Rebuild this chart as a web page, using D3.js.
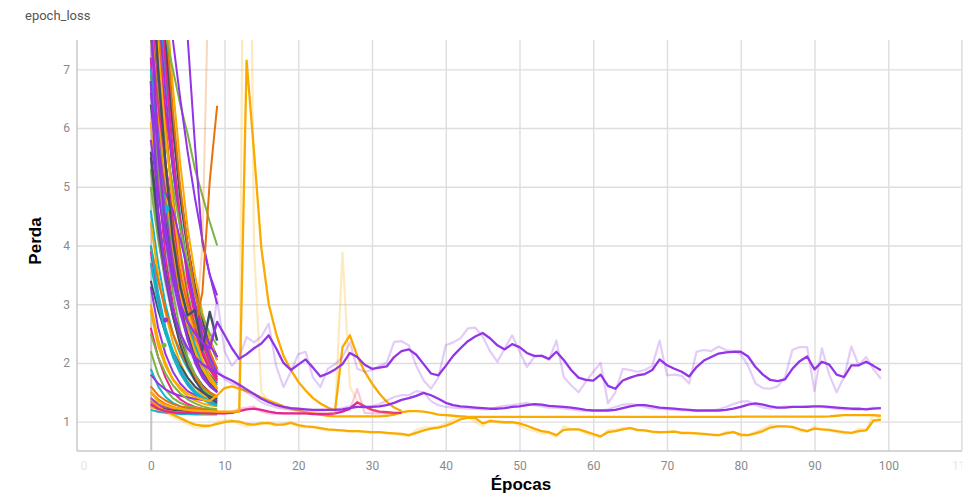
<!DOCTYPE html>
<html>
<head>
<meta charset="utf-8">
<script src="https://cdn.jsdelivr.net/npm/d3@7/dist/d3.min.js"></script>
<style>
  body { margin: 0; background: #fff; }
  svg { display: block; }
  .tick text { font-family: Roboto, "Noto Sans", sans-serif; font-size: 12px; fill: #8a8a8a; }
</style>
</head>
<body>
<script>
/*global d3: false*/

// axis setup
var xDomain = [-10, 110];
var yDomain = [0.5, 7.5];
var xTicks = [-10, 0, 10, 20, 30, 40, 50, 60, 70, 80, 90, 100, 110];
var yTicks = [1, 2, 3, 4, 5, 6, 7];

// tensorboard run colours
var palette = ["#425066", "#12b5cb", "#e52592", "#f9ab00", "#9334e6", "#7cb342", "#e8710a"];

// short runs, epochs 0..9 (smoothed values)
var shortRuns = [
  [9.8, 7.1, 5.3, 4.1, 3.3, 2.7, 2.3, 2.0, 1.8, 1.65],
  [8.4, 6.2, 4.7, 3.7, 3.0, 2.5, 2.1, 1.85, 1.65, 1.5],
  [7.2, 5.1, 3.8, 3.0, 2.4, 2.0, 1.75, 1.55, 1.42, 1.35],
  [6.1, 4.6, 3.6, 2.9, 2.4, 2.05, 1.8, 1.6, 1.48, 1.4],
  [11, 8.9, 7.3, 6.0, 4.9, 4.0, 3.3, 2.8, 2.4, 2.1],
  [5.3, 4.2, 3.4, 2.8, 2.35, 2.0, 1.75, 1.58, 1.46, 1.38],
  [10.5, 8.0, 6.1, 4.7, 3.7, 3.0, 2.5, 2.15, 1.9, 1.72],
  [12, 9.5, 7.6, 6.1, 4.9, 4.0, 3.3, 2.75, 2.35, 2.05],
  [4.6, 3.7, 3.0, 2.5, 2.15, 1.9, 1.7, 1.55, 1.45, 1.38],
  [3.9, 3.1, 2.55, 2.15, 1.85, 1.65, 1.5, 1.4, 1.33, 1.28],
  [9.0, 6.9, 5.3, 4.2, 3.4, 2.8, 2.35, 2.0, 1.75, 1.58],
  [3.3, 2.6, 2.15, 1.85, 1.65, 1.52, 1.45, 1.4, 1.37, 1.35],
  [8.8, 7.2, 5.9, 4.8, 3.9, 3.2, 2.65, 2.25, 1.95, 1.75],
  [6.8, 5.6, 4.6, 3.8, 3.1, 2.6, 2.2, 1.9, 1.7, 1.55],
  [6.4, 5.3, 4.4, 3.65, 3.0, 2.5, 2.1, 1.85, 1.65, 1.52],
  [10.2, 8.4, 6.9, 5.6, 4.5, 3.6, 2.9, 2.4, 2.05, 1.82],
  [2.6, 2.1, 1.75, 1.5, 1.38, 1.3, 1.25, 1.22, 1.2, 1.19],
  [3.0, 2.4, 2.0, 1.72, 1.55, 1.43, 1.36, 1.31, 1.28, 1.26],
  [7.7, 6.0, 4.7, 3.7, 2.95, 2.4, 2.0, 1.75, 1.6, 1.5],
  [2.2, 1.8, 1.55, 1.4, 1.32, 1.27, 1.24, 1.22, 1.21, 1.2],
  [9.4, 7.5, 6.0, 4.8, 3.85, 3.1, 2.55, 2.15, 1.88, 1.68],
  [5.6, 4.5, 3.6, 2.9, 2.4, 2.05, 1.8, 1.62, 1.5, 1.42],
  [1.9, 1.6, 1.42, 1.32, 1.26, 1.22, 1.2, 1.18, 1.17, 1.17],
  [8.1, 6.6, 5.4, 4.4, 3.6, 3.0, 2.5, 2.15, 1.9, 1.72],
  [4.4, 3.5, 2.85, 2.35, 2.0, 1.75, 1.58, 1.46, 1.38, 1.33],
  [1.8, 1.65, 1.55, 1.48, 1.44, 1.41, 1.39, 1.37, 1.36, 1.35],
  [6.9, 5.3, 4.1, 3.2, 2.55, 2.1, 1.8, 1.6, 1.47, 1.4],
  [1.6, 1.45, 1.36, 1.3, 1.26, 1.24, 1.22, 1.21, 1.2, 1.2],
  [10.8, 9.0, 7.4, 6.0, 4.8, 3.9, 3.2, 2.7, 2.35, 2.1],
  [7.0, 5.8, 4.8, 3.95, 3.25, 2.7, 2.3, 2.0, 1.78, 1.62],
  [1.35, 1.28, 1.24, 1.21, 1.19, 1.18, 1.17, 1.16, 1.16, 1.15],
  [7.9, 6.3, 5.0, 4.0, 3.2, 2.6, 2.2, 1.9, 1.7, 1.56],
  [1.4, 1.3, 1.24, 1.2, 1.18, 1.17, 1.16, 1.15, 1.15, 1.15],
  [5.0, 4.1, 3.4, 2.8, 2.35, 2.0, 1.75, 1.58, 1.46, 1.38],
  [4.0, 3.4, 2.9, 2.5, 2.2, 1.95, 1.75, 1.6, 1.5, 1.43],
  [1.28, 1.24, 1.21, 1.19, 1.18, 1.17, 1.16, 1.16, 1.15, 1.15],
  [1.2, 1.17, 1.15, 1.14, 1.13, 1.13, 1.12, 1.12, 1.12, 1.12],
  [8.6, 7.4, 6.3, 5.3, 4.4, 3.6, 3.0, 2.5, 2.15, 1.9],
  [12.5, 10.2, 8.3, 6.7, 5.4, 4.3, 3.5, 2.85, 2.4, 2.05],
  [9.9, 8.1, 6.6, 5.3, 4.3, 3.5, 2.9, 2.45, 2.1, 1.85],
  [2.5, 2.1, 1.82, 1.62, 1.48, 1.38, 1.31, 1.26, 1.23, 1.21],
  [1.5, 1.38, 1.3, 1.25, 1.22, 1.2, 1.19, 1.18, 1.18, 1.17],
  [3.4, 2.9, 2.5, 2.2, 1.95, 1.75, 1.6, 1.5, 1.43, 1.38],
  [4.0, 3.2, 2.6, 2.2, 1.9, 1.68, 1.52, 1.42, 1.35, 1.3],
  [11.2, 9.0, 7.1, 5.6, 4.4, 3.4, 2.8, 2.35, 2.0, 1.76],
  [1.25, 1.21, 1.19, 1.17, 1.16, 1.15, 1.15, 1.14, 1.14, 1.14],
  [5.8, 4.9, 4.1, 3.4, 2.85, 2.4, 2.05, 1.8, 1.62, 1.5],
  [7.5, 6.6, 5.8, 5.0, 4.3, 3.7, 3.2, 2.8, 2.5, 2.3],
  [12, 9.8, 7.9, 6.3, 5.0, 4.0, 3.2, 2.6, 2.2, 1.9],
  [5.5, 4.3, 3.45, 2.8, 2.3, 1.95, 1.7, 1.52, 1.4, 1.32],
  [3.7, 3.0, 2.5, 2.1, 1.82, 1.62, 1.48, 1.38, 1.31, 1.27],
  [7.6, 6.4, 5.4, 4.5, 3.75, 3.1, 2.6, 2.2, 1.9, 1.7],
  [9.2, 7.4, 5.9, 4.7, 3.7, 3.0, 2.45, 2.05, 1.78, 1.58],
  [6.6, 5.7, 4.9, 4.6, 4.1, 3.6, 3.0, 2.6, 2.3, 2.1]
];

// a few short runs that stand out
var slateZigzag = [9.0, 7.0, 5.4, 4.1, 3.3, 2.81, 2.9, 2.22, 2.87, 2.38];
var purpleSteep = [16, 14, 12.5, 11, 9.5, 7.55, 5.7, 4.05, 3.5, 3.15];
var purpleSlow = [12, 10.5, 9.0, 7.5, 6.5, 5.6, 4.8, 4.1, 3.5, 3.0];
var greenSlow = [10, 8.8, 7.6, 7.0, 6.4, 5.9, 5.3, 4.85, 4.4, 4.0];
var orangeUp = [9.5, 7.0, 5.4, 4.2, 3.5, 3.0, 2.6, 3.2, 5.1, 6.38];
var orangeUpRaw = [10.5, 6.2, 4.8, 3.8, 3.2, 2.8, 2.4, 4.0, 9.5, 8.3];

// long purple run, epochs 0..99
var purpleA = [7.9, 5.6, 4.3, 3.5, 3.0, 2.7, 2.5, 2.35, 2.25, 2.70,
  2.48, 2.25, 2.07, 2.15, 2.25, 2.33, 2.47, 2.25, 2.00, 1.88,
  1.97, 2.06, 1.92, 1.77, 1.82, 1.89, 1.98, 2.17, 2.10, 1.97,
  1.90, 1.92, 1.94, 2.10, 2.20, 2.23, 2.14, 1.98, 1.82, 1.79,
  1.95, 2.12, 2.25, 2.37, 2.45, 2.51, 2.42, 2.30, 2.23, 2.32,
  2.27, 2.17, 2.12, 2.12, 2.07, 2.19, 2.05, 1.88, 1.75, 1.71,
  1.70, 1.80, 1.61, 1.56, 1.70, 1.75, 1.79, 1.81, 1.88, 2.06,
  1.96, 1.90, 1.85, 1.77, 1.93, 2.04, 2.10, 2.16, 2.18, 2.19,
  2.19, 2.11, 1.93, 1.80, 1.71, 1.69, 1.72, 1.90, 2.03, 2.11,
  1.89, 2.02, 1.97, 1.80, 1.76, 1.96, 1.96, 2.02, 1.95, 1.875];
var purpleARaw = [8.6, 5.1, 4.0, 3.3, 2.8, 2.6, 2.4, 2.3, 2.2, 3.1,
  2.2, 1.95, 2.1, 2.44, 2.35, 2.45, 2.67, 1.95, 1.59, 1.85,
  2.15, 2.19, 1.75, 1.59, 1.9, 1.98, 2.1, 2.35, 1.9, 1.85,
  1.88, 1.95, 2.0, 2.36, 2.37, 2.3, 1.95, 1.7, 1.56, 1.75,
  2.3, 2.35, 2.42, 2.59, 2.6, 2.45, 2.2, 2.02, 2.25, 2.47,
  2.2, 1.93, 2.1, 2.13, 2.05, 2.38, 1.76, 1.62, 1.5, 1.68,
  1.85, 2.0, 1.31, 1.5, 1.9, 1.88, 1.85, 1.88, 1.95, 2.38,
  1.79, 1.8, 1.78, 1.65, 2.19, 2.22, 2.2, 2.28, 2.22, 2.2,
  2.15, 1.95, 1.65, 1.57, 1.56, 1.6, 1.76, 2.22, 2.27, 2.27,
  1.52, 2.25, 1.8, 1.5, 1.76, 2.28, 1.96, 2.1, 1.89, 1.73];

// second long purple run, epochs 0..99
var purpleB = [6.8, 4.6, 3.5, 2.9, 2.5, 2.25, 2.1, 1.98, 1.9, 1.83,
  1.76, 1.70, 1.63, 1.55, 1.47, 1.39, 1.33, 1.28, 1.25, 1.23,
  1.22, 1.21, 1.20, 1.20, 1.20, 1.20, 1.21, 1.23, 1.25, 1.25,
  1.25, 1.26, 1.28, 1.32, 1.37, 1.40, 1.44, 1.49, 1.45, 1.39,
  1.32, 1.28, 1.26, 1.25, 1.24, 1.23, 1.22, 1.22, 1.23, 1.25,
  1.26, 1.28, 1.30, 1.29, 1.27, 1.26, 1.25, 1.24, 1.22, 1.20,
  1.19, 1.19, 1.19, 1.20, 1.23, 1.26, 1.28, 1.28, 1.26, 1.24,
  1.23, 1.22, 1.21, 1.20, 1.19, 1.19, 1.19, 1.19, 1.20, 1.22,
  1.25, 1.29, 1.31, 1.29, 1.26, 1.24, 1.24, 1.25, 1.25, 1.25,
  1.26, 1.26, 1.25, 1.24, 1.23, 1.22, 1.22, 1.21, 1.22, 1.23];
var purpleBRaw = [7.4, 4.2, 3.3, 2.8, 2.4, 2.2, 2.05, 1.95, 1.88, 1.9,
  1.72, 1.65, 1.6, 1.5, 1.42, 1.33, 1.28, 1.24, 1.22, 1.21,
  1.2, 1.2, 1.19, 1.2, 1.2, 1.21, 1.23, 1.26, 1.25, 1.24,
  1.26, 1.3, 1.36, 1.42, 1.45, 1.45, 1.52, 1.5, 1.35, 1.28,
  1.25, 1.24, 1.23, 1.22, 1.22, 1.21, 1.21, 1.25, 1.27, 1.28,
  1.3, 1.32, 1.28, 1.26, 1.24, 1.24, 1.22, 1.21, 1.19, 1.18,
  1.19, 1.19, 1.21, 1.25, 1.29, 1.3, 1.28, 1.25, 1.22, 1.22,
  1.21, 1.2, 1.19, 1.19, 1.18, 1.19, 1.19, 1.21, 1.25, 1.3,
  1.34, 1.35, 1.28, 1.24, 1.22, 1.24, 1.26, 1.25, 1.25, 1.27,
  1.26, 1.25, 1.23, 1.22, 1.21, 1.21, 1.2, 1.22, 1.24, 1.23];

// flat yellow run, epochs 0..99
var yellowFlat = [2.9, 2.3, 1.95, 1.72, 1.58, 1.48, 1.42, 1.38, 1.35, 1.45,
  1.57, 1.60, 1.56, 1.52, 1.47, 1.41, 1.36, 1.31, 1.26, 1.22,
  1.19, 1.16, 1.14, 1.12, 1.10, 1.09, 1.09, 1.09, 1.09, 1.09,
  1.09, 1.09, 1.10, 1.12, 1.16, 1.18, 1.18, 1.17, 1.15, 1.12,
  1.11, 1.10, 1.09, 1.08, 1.08, 1.08, 1.08, 1.08, 1.08, 1.08,
  1.08, 1.08, 1.08, 1.08, 1.08, 1.08, 1.08, 1.08, 1.08, 1.08,
  1.08, 1.08, 1.08, 1.08, 1.08, 1.08, 1.08, 1.08, 1.08, 1.08,
  1.08, 1.08, 1.08, 1.08, 1.08, 1.08, 1.08, 1.08, 1.08, 1.08,
  1.085, 1.085, 1.085, 1.085, 1.085, 1.085, 1.085, 1.085, 1.085, 1.085,
  1.085, 1.085, 1.09, 1.10, 1.11, 1.11, 1.11, 1.11, 1.11, 1.10];

// lower yellow run, epochs 0..99
var yellowLow = [1.35, 1.25, 1.18, 1.12, 1.06, 1.0, 0.95, 0.93, 0.93, 0.96,
  0.99, 1.01, 1.0, 0.96, 0.95, 0.97, 0.98, 0.95, 0.95, 0.98,
  0.94, 0.92, 0.91, 0.89, 0.87, 0.86, 0.85, 0.84, 0.84, 0.83,
  0.82, 0.82, 0.81, 0.80, 0.79, 0.77, 0.81, 0.85, 0.88, 0.90,
  0.93, 0.98, 1.04, 1.07, 1.06, 0.97, 1.01, 1.0, 0.99, 0.99,
  0.97, 0.93, 0.88, 0.84, 0.82, 0.77, 0.86, 0.87, 0.87, 0.83,
  0.79, 0.75, 0.82, 0.84, 0.87, 0.89, 0.86, 0.85, 0.83, 0.82,
  0.82, 0.83, 0.81, 0.81, 0.80, 0.79, 0.78, 0.77, 0.80, 0.82,
  0.78, 0.77, 0.80, 0.84, 0.90, 0.92, 0.92, 0.91, 0.87, 0.84,
  0.88, 0.87, 0.86, 0.84, 0.82, 0.81, 0.84, 0.85, 1.02, 1.03];
var yellowLowRaw = [1.4, 1.2, 1.15, 1.08, 1.02, 0.96, 0.9, 0.9, 0.92, 1.0,
  1.02, 1.03, 0.96, 0.92, 0.95, 0.99, 0.96, 0.93, 0.97, 0.99,
  0.91, 0.9, 0.9, 0.87, 0.85, 0.85, 0.84, 0.83, 0.84, 0.82,
  0.81, 0.82, 0.8, 0.79, 0.77, 0.75, 0.86, 0.9, 0.9, 0.92,
  0.97, 1.03, 1.1, 1.08, 1.0, 0.92, 1.04, 0.99, 0.98, 0.99,
  0.93, 0.88, 0.84, 0.8, 0.8, 0.74, 0.92, 0.87, 0.86, 0.8,
  0.76, 0.73, 0.86, 0.86, 0.89, 0.9, 0.84, 0.84, 0.82, 0.81,
  0.83, 0.84, 0.79, 0.8, 0.79, 0.78, 0.77, 0.76, 0.83, 0.83,
  0.75, 0.77, 0.83, 0.88, 0.94, 0.93, 0.92, 0.9, 0.84, 0.83,
  0.91, 0.86, 0.85, 0.82, 0.8, 0.8, 0.88, 0.86, 1.12, 1.04];

// yellow run with the two spikes, epochs 0..34
var yellowSpike = [1.5, 1.35, 1.28, 1.24, 1.22, 1.2, 1.19, 1.18, 1.18, 1.17,
  1.17, 1.17, 1.17, 7.15, 5.6, 3.95, 3.0, 2.5, 2.12, 1.88,
  1.68, 1.53, 1.40, 1.31, 1.24, 1.19, 2.27, 2.47, 2.12, 1.85,
  1.65, 1.48, 1.34, 1.24, 1.18];
var yellowSpikeRaw = [1.6, 1.3, 1.25, 1.22, 1.21, 1.19, 1.18, 1.18, 1.17, 1.17,
  1.17, 1.17, 1.17, 17, 3.97, 1.5, 1.35, 1.28, 1.22, 1.2,
  1.18, 1.17, 1.16, 1.16, 1.15, 1.15, 3.88, 1.6, 1.35, 1.25,
  1.2, 1.17, 1.15, 1.14, 1.13];

// pink run, epochs 0..34
var pinkRun = [1.3, 1.22, 1.18, 1.16, 1.15, 1.15, 1.15, 1.15, 1.14, 1.14,
  1.14, 1.15, 1.18, 1.21, 1.22, 1.2, 1.17, 1.15, 1.14, 1.14,
  1.14, 1.14, 1.13, 1.13, 1.13, 1.14, 1.17, 1.22, 1.33, 1.26,
  1.2, 1.17, 1.16, 1.15, 1.15];
var pinkRunRaw = [1.35, 1.18, 1.16, 1.15, 1.15, 1.15, 1.15, 1.14, 1.14, 1.14,
  1.14, 1.17, 1.22, 1.24, 1.26, 1.17, 1.14, 1.13, 1.14, 1.14,
  1.13, 1.14, 1.13, 1.12, 1.13, 1.15, 1.2, 1.2, 1.56, 1.15,
  1.14, 1.14, 1.15, 1.14, 1.15];

// single-step runs drawn as dots: [epoch, value]
var dotRuns = [[2, 4.62], [2, 2.73], [1.8, 2.3]];

var W = 968, H = 496;
var plotL = 77, plotR = 962, plotT = 40, plotB = 451;

var svg = d3.select("body").append("svg").attr("width", W).attr("height", H);

var x = d3.scaleLinear().domain(xDomain).range([plotL, plotR]);
var y = d3.scaleLinear().domain(yDomain).range([plotB, plotT]);

var defs = svg.append("defs");
defs.append("clipPath").attr("id", "plot")
  .append("rect").attr("x", plotL).attr("y", plotT).attr("width", plotR - plotL).attr("height", plotB - plotT);
defs.append("clipPath").attr("id", "xlab")
  .append("rect").attr("x", plotL + 2).attr("y", -500).attr("width", plotR - plotL - 2).attr("height", 560);

// gridlines + labels
var yAxis = svg.append("g").attr("transform", "translate(" + plotL + ",0)")
  .call(d3.axisLeft(y).tickValues(yTicks).tickSize(-(plotR - plotL)).tickPadding(7).tickFormat(d3.format("d")));
yAxis.select(".domain").remove();
yAxis.selectAll(".tick line").attr("stroke", "#dedede").attr("stroke-width", 1.4);

var xAxis = svg.append("g").attr("transform", "translate(0," + plotB + ")")
  .call(d3.axisBottom(x).tickValues(xTicks).tickSize(-(plotB - plotT)).tickPadding(10).tickFormat(d3.format("d")));
xAxis.select(".domain").remove();
xAxis.selectAll(".tick line")
  .attr("stroke", function (d) { return d === 0 ? "#c4c4c4" : "#dedede"; })
  .attr("stroke-width", function (d) { return d === 0 ? 2 : 1.4; });
// edge labels are faint and cut at the plot edge
xAxis.selectAll(".tick").filter(function (d) { return d === xDomain[0] || d === xDomain[1]; })
  .attr("transform", null)
  .attr("clip-path", "url(#xlab)")
  .each(function (d) {
    d3.select(this).select("line").attr("x1", x(d)).attr("x2", x(d));
    d3.select(this).select("text").attr("x", x(d)).style("fill", "#e6e6e6");
  });

// frame: left and bottom axis, right edge
svg.append("line").attr("x1", plotL).attr("x2", plotL).attr("y1", plotT).attr("y2", plotB)
  .attr("stroke", "#c8c8c8").attr("stroke-width", 1.5);
svg.append("line").attr("x1", plotL).attr("x2", plotR).attr("y1", plotB).attr("y2", plotB)
  .attr("stroke", "#c8c8c8").attr("stroke-width", 1.5);
svg.append("line").attr("x1", plotR).attr("x2", plotR).attr("y1", plotT).attr("y2", plotB)
  .attr("stroke", "#dedede").attr("stroke-width", 1.4);

var plot = svg.append("g").attr("clip-path", "url(#plot)");

var line = d3.line()
  .x(function (d) { return x(d[0]); })
  .y(function (d) { return y(d[1]); });

function pts(values, start) {
  return values.map(function (v, i) { return [start + i, v]; });
}

function drawRun(values, colour, opts) {
  opts = opts || {};
  plot.append("path")
    .datum(pts(values, opts.start || 0))
    .attr("fill", "none")
    .attr("stroke", colour)
    .attr("stroke-opacity", opts.opacity || 1)
    .attr("stroke-width", opts.width || 2)
    .attr("stroke-linejoin", "round")
    .attr("d", line);
}

// short runs first, cycling the palette
shortRuns.forEach(function (r, i) {
  drawRun(r, palette[i % palette.length]);
});
drawRun(greenSlow, palette[5]);
drawRun(purpleSlow, palette[4]);
drawRun(purpleSteep, palette[4]);
drawRun(orangeUpRaw, palette[6], { opacity: 0.28 });
drawRun(orangeUp, palette[6]);
drawRun(slateZigzag, palette[0], { width: 2.4 });

plot.selectAll("circle.dot").data(dotRuns).enter().append("circle")
  .attr("class", "dot")
  .attr("cx", function (d) { return x(d[0]); })
  .attr("cy", function (d) { return y(d[1]); })
  .attr("r", function (d, i) { return i === 0 ? 4 : 2.5; })
  .attr("fill", function (d, i) { return [palette[1], palette[4], palette[5]][i]; });

// long runs: faint raw line under the smoothed one
drawRun(yellowLowRaw, palette[3], { opacity: 0.25, width: 2.2 });
drawRun(yellowLow, palette[3], { width: 2.3 });
drawRun(yellowFlat, palette[3], { width: 2.3 });
drawRun(pinkRunRaw, palette[2], { opacity: 0.25, width: 2.2 });
drawRun(pinkRun, palette[2], { width: 2.3 });
drawRun(yellowSpikeRaw, palette[3], { opacity: 0.25, width: 2.2 });
drawRun(yellowSpike, palette[3], { width: 2.3 });
drawRun(purpleBRaw, palette[4], { opacity: 0.25, width: 2.2 });
drawRun(purpleB, palette[4], { width: 2.3 });
drawRun(purpleARaw, palette[4], { opacity: 0.25, width: 2.2 });
drawRun(purpleA, palette[4], { width: 2.3 });

// titles
svg.append("text").attr("x", 25).attr("y", 20)
  .style("font-family", "Roboto, sans-serif").style("font-size", "13px").style("fill", "#555")
  .text("epoch_loss");
svg.append("text").attr("transform", "translate(41,241) rotate(-90)")
  .attr("text-anchor", "middle")
  .style("font-family", "'Liberation Sans', Arial, sans-serif").style("font-weight", "bold").style("font-size", "17px")
  .text("Perda");
svg.append("text").attr("x", 521).attr("y", 490)
  .attr("text-anchor", "middle")
  .style("font-family", "'Liberation Sans', Arial, sans-serif").style("font-weight", "bold").style("font-size", "17px")
  .text("Épocas");
</script>
</body>
</html>
